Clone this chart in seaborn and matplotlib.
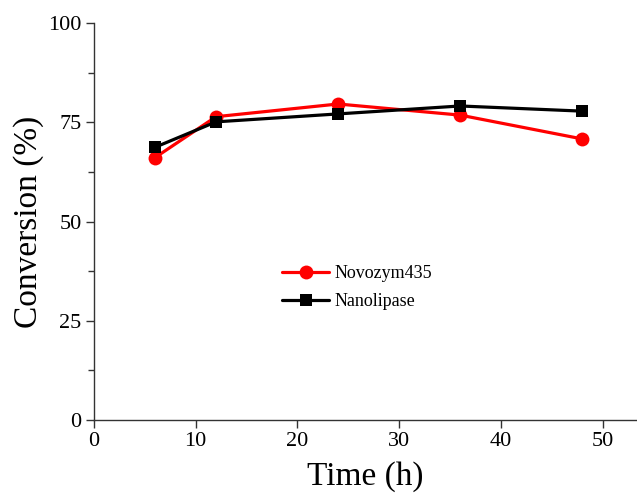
import matplotlib
matplotlib.use("Agg")
import matplotlib.pyplot as plt
import seaborn as sns
import pandas as pd
from matplotlib.ticker import MultipleLocator

time_h = [6, 12, 24, 36, 48]
novozym435 = [66.1, 76.4, 79.6, 76.8, 70.8]
nanolipase = [68.7, 75.1, 77.1, 79.1, 77.8]
series_names = ["Novozym435", "Nanolipase"]
x_ticks = [0, 10, 20, 30, 40, 50]
y_ticks = [0, 25, 50, 75, 100]

sns.set_theme(style="ticks")
plt.rcParams['font.family'] = ['Liberation Serif', 'DejaVu Serif']
plt.rcParams['text.color'] = 'black'
plt.rcParams['axes.labelcolor'] = 'black'
plt.rcParams['xtick.color'] = 'black'
plt.rcParams['ytick.color'] = 'black'

fig = plt.figure(figsize=(6.37, 4.95), dpi=100)
ax = fig.add_axes([94/637, 1 - 420/495, 1 - 94/637, (420 - 23)/495])

df = pd.DataFrame({
    "Time": time_h * 2,
    "Conversion": novozym435 + nanolipase,
    "Enzyme": [series_names[0]] * len(time_h) + [series_names[1]] * len(time_h),
})

sns.lineplot(data=df[df.Enzyme == series_names[0]], x="Time", y="Conversion",
             color="#ff0000", marker="o", markersize=10, markeredgewidth=0,
             linewidth=2.3, label=series_names[0], ax=ax)
sns.lineplot(data=df[df.Enzyme == series_names[1]], x="Time", y="Conversion",
             color="#000000", marker="s", markersize=9, markeredgewidth=0,
             linewidth=2.3, label=series_names[1], ax=ax)

ax.set_xlim(0, (637 - 94) / 10.17)
ax.set_ylim(0, 100)
ax.set_xticks(x_ticks)
ax.set_yticks(y_ticks)
ax.yaxis.set_minor_locator(MultipleLocator(12.5))
ax.tick_params(axis='both', which='major', labelsize=16, length=6, width=1.0,
               color='#333333', labelcolor='black', direction='out', pad=3)
ax.tick_params(axis='y', which='minor', length=4, width=1.0, color='#333333')
for s in ['top', 'right']:
    ax.spines[s].set_visible(False)
for s in ['left', 'bottom']:
    ax.spines[s].set_linewidth(1.0)
    ax.spines[s].set_color('#333333')

ax.set_xlabel("Time (h)", fontsize=24, labelpad=7, color='black')
ax.set_ylabel("Conversion (%)", fontsize=24, labelpad=3, color='black')

leg = ax.legend(loc='upper left', bbox_to_anchor=(0.347, 0.39), frameon=False,
                fontsize=13, handlelength=2.6, handletextpad=0.3,
                labelspacing=0.6, borderpad=0, borderaxespad=0)
for t in leg.get_texts():
    t.set_color('black')

fig.savefig("out.png", dpi=100)
